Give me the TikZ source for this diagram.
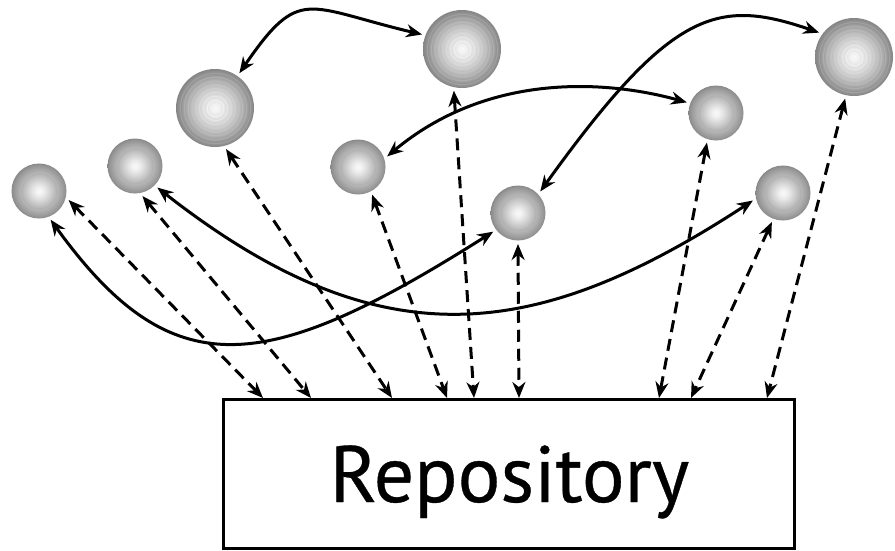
\documentclass[tikz,border=0pt]{standalone}
\usepackage{fontspec}
\setmainfont{PT Sans}[FakeBold=0.4]
\usetikzlibrary{arrows.meta}

% TikZ maps the central 50bp square of a shading onto the path, so the
% rim of each sphere sits at 25bp.
% large spheres: radial gradient broken into fine concentric bands
\pgfdeclareradialshading{bigsphereshade}{\pgfpoint{0bp}{0bp}}{%
  color(0bp)=(black!3); color(2.5bp)=(black!5);
  color(4.6bp)=(black!9.9);   color(5bp)=(black!4);     color(5.4bp)=(black!8.4);
  color(7.1bp)=(black!13.2);  color(7.5bp)=(black!6.2);  color(7.9bp)=(black!11.7);
  color(9.6bp)=(black!17.1);  color(10bp)=(black!10.1);  color(10.4bp)=(black!15.6);
  color(12.1bp)=(black!21.6); color(12.5bp)=(black!14.6); color(12.9bp)=(black!20.1);
  color(14.6bp)=(black!26.5); color(15bp)=(black!19.5);  color(15.4bp)=(black!25);
  color(17.1bp)=(black!31.8); color(17.5bp)=(black!24.8); color(17.9bp)=(black!30.3);
  color(19.6bp)=(black!37.5); color(20bp)=(black!30.5);  color(20.4bp)=(black!36);
  color(22.1bp)=(black!43.6); color(22.5bp)=(black!36.6); color(22.9bp)=(black!42.1);
  color(25bp)=(black!48); color(50bp)=(black!48)}

% small spheres: bright core inside a darker rim band
\pgfdeclareradialshading{smallsphereshade}{\pgfpoint{0bp}{0bp}}{%
  color(0bp)=(black!3); color(3bp)=(black!5); color(8bp)=(black!14);
  color(15bp)=(black!28); color(15.6bp)=(black!32); color(16.2bp)=(black!28);
  color(21bp)=(black!37); color(24bp)=(black!43); color(25bp)=(black!47);
  color(50bp)=(black!47)}

\tikzset{
  smallsphere/.style={circle, inner sep=0pt, outer sep=3.5pt, minimum size=55pt,
    shade, shading=smallsphereshade},
  bigsphere/.style={circle, inner sep=0pt, outer sep=3.5pt, minimum size=78pt,
    shade, shading=bigsphereshade},
  link/.style={line width=3pt,
    arrows={Stealth[length=16pt,width=13pt]-Stealth[length=16pt,width=13pt]}},
  feed/.style={link, dash pattern=on 12pt off 7pt},
  repobox/.style={draw, line width=3pt, inner sep=0pt,
    minimum width=571.5pt, minimum height=148.5pt}
}

\begin{document}
\begin{tikzpicture}[x=1pt, y=-1pt]
\useasboundingbox (0,0) rectangle (895,550);

% repository
\node[repobox] (repo) at (508.75,473.75) {};
\node[anchor=base, inner sep=0pt, font=\fontsize{80}{82}\selectfont] (label) at (509.5,502) {Repository};

% endpoints on the top edge of the repository
\coordinate (r1) at (263,398);
\coordinate (r2) at (311,398);
\coordinate (r3) at (392,398);
\coordinate (r4) at (447,398);
\coordinate (r5) at (474,398);
\coordinate (r6) at (519,398);
\coordinate (r7) at (659,398);
\coordinate (r8) at (691,398);
\coordinate (r9) at (767,398);

% spheres
\node[smallsphere] (s1) at (39,191) {};
\node[smallsphere] (s2) at (135,166) {};
\node[bigsphere]   (s3) at (215,108) {};
\node[bigsphere]   (s4) at (462,49) {};
\node[smallsphere] (s5) at (358,167) {};
\node[smallsphere] (s6) at (518,213) {};
\node[smallsphere] (s7) at (716,113) {};
\node[smallsphere] (s8) at (783,193) {};
\node[bigsphere]   (s9) at (854,57) {};

% links to the repository
\draw[feed] (s1.-17)  -- (r1);
\draw[feed] (s2.-76)  -- (r2);
\draw[feed] (s3.-75)  -- (r3);
\draw[feed] (s5.-63)  -- (r4);
\draw[feed] (s4.-101) -- (r5);
\draw[feed] (s6.-90)  -- (r6);
\draw[feed] (s7.-107) -- (r7);
\draw[feed] (s8.-111) -- (r8);
\draw[feed] (s9.-102) -- (r9);

% links between spheres
\draw[link] (s3.55) .. controls (300,-15) and (306,7) .. (s4.160);
\draw[link] (s5.20) .. controls (486,74) and (602,79) .. (s7.160);
\draw[link] (s6.44) .. controls (672,8) and (718,-2) .. (s9.145);
\draw[link] (s1.-68) .. controls (172,388) and (265,376) .. (s6.-143);
\draw[link] (s2.-44) .. controls (380,362) and (535,343) .. (s8.-166);
\end{tikzpicture}
\end{document}
